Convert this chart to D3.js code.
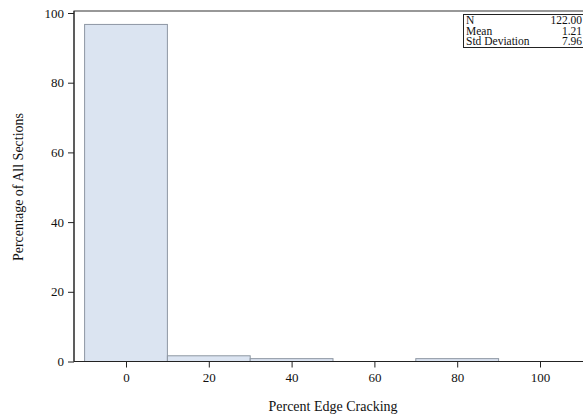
<!DOCTYPE html>
<html><head><meta charset="utf-8">
<script src="https://cdn.jsdelivr.net/npm/d3@7"></script>
<style>body{margin:0;background:#fff;} svg{display:block;font-family:"Liberation Serif","Times New Roman",serif;}</style>
</head><body>
<svg id="c" width="583" height="419"></svg>
<script>
const binStarts = [-10, 10, 30, 50, 70];
const binEnds   = [10, 30, 50, 70, 90];
const percents  = [96.72, 1.64, 0.82, 0, 0.82];
const xTicks = [0, 20, 40, 60, 80, 100];
const yTicks = [0, 20, 40, 60, 80, 100];
const statLabels = ["N", "Mean", "Std Deviation"];
const statValues = ["122.00", "1.21", "7.96"];

const svg = d3.select("#c");
const x = d3.scaleLinear().domain([0, 100]).range([126, 540]);
const y = d3.scaleLinear().domain([0, 100]).range([361.5, 13]);
const pL = 74, pT = 11, pR = 590, pB = 361.5;

svg.append("rect").attr("x", pL).attr("y", pT).attr("width", pR-pL).attr("height", pB-pT)
  .attr("fill", "none").attr("stroke", "#333").attr("stroke-width", 1);

svg.selectAll("rect.bar").data(percents.map((p,i)=>({p, s:binStarts[i], e:binEnds[i]})).filter(d=>d.p>0))
  .enter().append("rect").attr("class","bar")
  .attr("x", d=>x(d.s)).attr("width", d=>x(d.e)-x(d.s))
  .attr("y", d=>y(d.p)).attr("height", d=>y(0)-y(d.p))
  .attr("fill", "#dbe4f1").attr("stroke", "#8e97a3").attr("stroke-width", 1);

const xa = svg.append("g").attr("transform", `translate(0,${pB})`)
  .call(d3.axisBottom(x).tickValues(xTicks).tickSize(6).tickPadding(5).tickFormat(d3.format("d")));
xa.select(".domain").attr("d", `M${pL},0H${pR}`).attr("stroke", "#222");
const ya = svg.append("g").attr("transform", `translate(${pL},0)`)
  .call(d3.axisLeft(y).tickValues(yTicks).tickSize(6).tickPadding(4).tickFormat(d3.format("d")));
ya.select(".domain").attr("d", `M0,${pT}V${pB}`).attr("stroke", "#222");
svg.selectAll(".tick line").attr("stroke", "#222");
svg.selectAll(".tick text").attr("font-family", "Liberation Serif, serif").attr("font-size", 13).attr("fill", "#111");

svg.append("text").attr("x", 333).attr("y", 411).attr("text-anchor","middle")
  .attr("font-size", 14).attr("fill","#111").text("Percent Edge Cracking");
svg.append("text").attr("transform","translate(23,187) rotate(-90)").attr("text-anchor","middle")
  .attr("font-size", 14).attr("fill","#111").text("Percentage of All Sections");

const box = svg.append("g");
box.append("rect").attr("x", 463.5).attr("y", 14.5).attr("width", 130).attr("height", 33)
  .attr("fill", "#fff").attr("stroke", "#222");
statLabels.forEach((s,i)=>{
  box.append("text").attr("x", 466).attr("y", 24 + i*10.5).attr("font-size", 11.5).attr("fill","#111").text(s);
  box.append("text").attr("x", 582).attr("y", 24 + i*10.5).attr("text-anchor","end").attr("font-size", 11.5).attr("fill","#111").text(statValues[i]);
});
</script>
</body></html>
